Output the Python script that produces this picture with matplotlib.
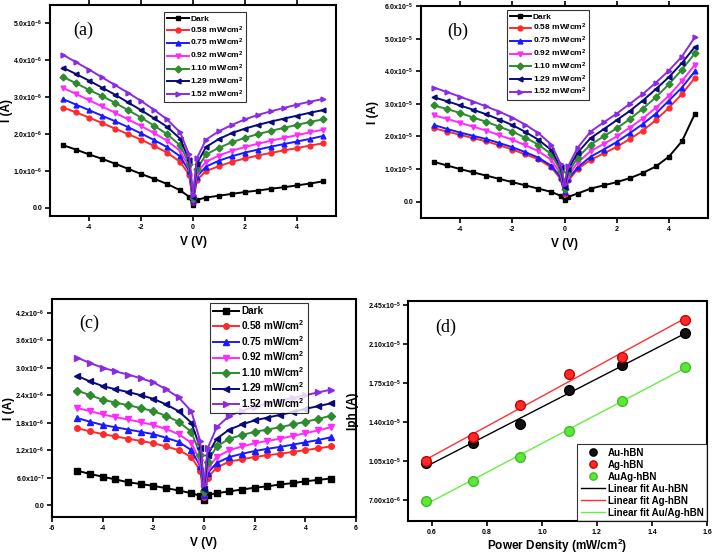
import numpy as np
import matplotlib
matplotlib.use("Agg")
import matplotlib.pyplot as plt

plt.rcParams['font.family'] = ['Liberation Sans', 'DejaVu Sans']
plt.rcParams['mathtext.fontset'] = 'custom'
plt.rcParams['mathtext.rm'] = 'Liberation Sans:bold'
plt.rcParams['mathtext.bf'] = 'Liberation Sans:bold'
plt.rcParams['mathtext.it'] = 'Liberation Sans:bold'

# ---------------- data ----------------
V = [-5, -4.5, -4, -3.5, -3, -2.5, -2, -1.5, -1, -0.5, -0.15, 0, 0.15, 0.5,
     1, 1.5, 2, 2.5, 3, 3.5, 4, 4.5, 5]

series_labels = ['Dark', '0.58 mW/cm$^2$', '0.75 mW/cm$^2$', '0.92 mW/cm$^2$',
                 '1.10 mW/cm$^2$', '1.29 mW/cm$^2$', '1.52 mW/cm$^2$']

# panel (a)  (x1e-6 A)
a_dark = [1.70,1.58,1.45,1.33,1.20,1.06,0.92,0.79,0.65,0.48,0.30,0.08,0.22,0.28,0.33,0.38,0.43,0.47,0.52,0.56,0.61,0.66,0.72]
a_058 = [2.72,2.59,2.45,2.30,2.15,2.00,1.85,1.68,1.50,1.25,0.90,0.15,0.75,1.00,1.13,1.25,1.34,1.42,1.49,1.56,1.62,1.69,1.75]
a_075 = [2.95,2.80,2.65,2.50,2.35,2.19,2.02,1.84,1.65,1.40,1.00,0.18,0.85,1.12,1.28,1.40,1.50,1.58,1.66,1.73,1.80,1.87,1.95]
a_092 = [3.25,3.09,2.92,2.75,2.58,2.40,2.22,2.03,1.82,1.55,1.10,0.22,0.95,1.25,1.42,1.55,1.65,1.74,1.82,1.90,1.97,2.05,2.12]
a_110 = [3.55,3.38,3.20,3.03,2.85,2.65,2.45,2.23,2.00,1.70,1.20,0.26,1.05,1.45,1.63,1.78,1.90,2.00,2.09,2.17,2.25,2.33,2.40]
a_129 = [3.80,3.63,3.45,3.26,3.07,2.86,2.65,2.43,2.20,1.88,1.30,0.30,1.20,1.65,1.87,2.03,2.15,2.25,2.34,2.42,2.50,2.58,2.65]
a_152 = [4.15,3.95,3.75,3.54,3.33,3.12,2.90,2.66,2.40,2.05,1.45,0.35,1.35,1.85,2.08,2.25,2.40,2.52,2.62,2.71,2.80,2.88,2.95]

# panel (b)  (x1e-5 A)
b_dark = [1.22,1.11,1.00,0.90,0.80,0.70,0.60,0.50,0.40,0.30,0.18,0.05,0.15,0.25,0.40,0.50,0.60,0.72,0.88,1.08,1.38,1.85,2.70]
b_058 = [2.25,2.15,2.05,1.95,1.85,1.73,1.60,1.45,1.30,1.05,0.70,0.25,0.65,1.00,1.28,1.48,1.68,1.92,2.18,2.50,2.88,3.30,3.80]
b_075 = [2.35,2.23,2.12,2.02,1.92,1.80,1.67,1.52,1.35,1.10,0.75,0.30,0.70,1.05,1.38,1.60,1.83,2.10,2.38,2.70,3.10,3.50,4.00]
b_092 = [2.65,2.54,2.42,2.30,2.18,2.04,1.90,1.73,1.55,1.28,0.85,0.35,0.80,1.20,1.55,1.77,2.00,2.27,2.55,2.88,3.25,3.70,4.20]
b_110 = [2.95,2.84,2.72,2.58,2.45,2.30,2.15,1.96,1.75,1.45,0.95,0.40,0.90,1.35,1.75,2.00,2.25,2.53,2.85,3.20,3.60,4.05,4.55]
b_129 = [3.20,3.08,2.95,2.82,2.68,2.52,2.35,2.14,1.90,1.58,1.05,0.45,1.00,1.50,1.95,2.22,2.50,2.78,3.10,3.45,3.82,4.25,4.75]
b_152 = [3.50,3.36,3.22,3.07,2.92,2.76,2.58,2.36,2.10,1.75,1.15,0.55,1.10,1.65,2.15,2.43,2.70,3.00,3.30,3.65,4.02,4.45,5.05]

# panel (c)  (x1e-6 A)
c_dark = [0.75,0.68,0.62,0.56,0.50,0.46,0.42,0.37,0.32,0.26,0.20,0.12,0.22,0.26,0.30,0.34,0.38,0.41,0.45,0.48,0.52,0.55,0.58]
c_058 = [1.68,1.61,1.55,1.50,1.45,1.40,1.35,1.28,1.20,1.05,0.75,0.18,0.60,0.82,0.95,1.00,1.05,1.09,1.12,1.16,1.20,1.24,1.28]
c_075 = [1.90,1.82,1.75,1.70,1.65,1.60,1.55,1.47,1.38,1.20,0.85,0.22,0.70,0.92,1.05,1.12,1.18,1.23,1.27,1.32,1.37,1.42,1.48]
c_092 = [2.12,2.05,1.98,1.92,1.87,1.81,1.75,1.66,1.55,1.36,0.95,0.26,0.80,1.05,1.20,1.28,1.35,1.40,1.45,1.51,1.57,1.63,1.70]
c_110 = [2.50,2.40,2.30,2.24,2.18,2.12,2.05,1.95,1.82,1.60,1.10,0.30,0.95,1.28,1.45,1.53,1.60,1.65,1.70,1.76,1.82,1.88,1.95]
c_129 = [2.82,2.70,2.60,2.53,2.47,2.40,2.32,2.20,2.05,1.80,1.25,0.35,1.10,1.45,1.65,1.76,1.85,1.91,1.97,2.03,2.10,2.16,2.22]
c_152 = [3.22,3.10,3.00,2.92,2.85,2.77,2.68,2.53,2.35,2.05,1.40,0.45,1.25,1.70,1.95,2.06,2.15,2.22,2.28,2.34,2.40,2.46,2.52]

# panel (d)  (x1e-5 A)
power = [0.58, 0.75, 0.92, 1.10, 1.29, 1.52]
iph_au = [1.03, 1.21, 1.38, 1.69, 1.91, 2.20]
iph_ag = [1.05, 1.27, 1.55, 1.83, 1.99, 2.32]
iph_auag = [0.69, 0.87, 1.09, 1.32, 1.59, 1.90]

# tick labels
a_yticks = [0, 1, 2, 3, 4, 5]
a_yticklabels = ['0.0', '1.0x10$^{-6}$', '2.0x10$^{-6}$', '3.0x10$^{-6}$', '4.0x10$^{-6}$', '5.0x10$^{-6}$']
b_yticks = [0, 1, 2, 3, 4, 5, 6]
b_yticklabels = ['0.0', '1.0x10$^{-5}$', '2.0x10$^{-5}$', '3.0x10$^{-5}$', '4.0x10$^{-5}$', '5.0x10$^{-5}$', '6.0x10$^{-5}$']
c_yticks = [0, 0.6, 1.2, 1.8, 2.4, 3.0, 3.6, 4.2]
c_yticklabels = ['0.0', '6.0x10$^{-7}$', '1.2x10$^{-6}$', '1.8x10$^{-6}$', '2.4x10$^{-6}$', '3.0x10$^{-6}$', '3.6x10$^{-6}$', '4.2x10$^{-6}$']
d_yticks = [0.70, 1.05, 1.40, 1.75, 2.10, 2.45]
d_yticklabels = ['7.00x10$^{-6}$', '1.05x10$^{-5}$', '1.40x10$^{-5}$', '1.75x10$^{-5}$', '2.10x10$^{-5}$', '2.45x10$^{-5}$']

# ---------------- styling ----------------
colors = ['#000000', '#ff2a2a', '#1a1aff', '#ff2aff', '#2e8b2e', '#0a0a7a', '#8a2be2']
markers = ['s', 'o', '^', 'v', 'D', '<', '>']

W, H = 713, 557
fig = plt.figure(figsize=(W / 100, H / 100), dpi=100)


def rect(l, r, t, b):
    return [l / W, 1 - b / H, (r - l) / W, (b - t) / H]


def style_axes(ax, top_ticks=False):
    for s in ax.spines.values():
        s.set_linewidth(1.5)
    ax.tick_params(direction='out', width=1.2, length=3.5, labelsize=5, pad=2)
    if top_ticks:
        ax.tick_params(axis='x', top=True, labeltop=False)
    for lab in ax.get_xticklabels() + ax.get_yticklabels():
        lab.set_fontweight('bold')


def iv_panel(ax, data, yticks, yticklabels, ylim, xlim, xticks, tag, tagpos,
             legpos, legfs, msize, top_ticks, ylabx):
    for d, c, m, lab in zip(data, colors, markers, series_labels):
        ax.plot(V, d, color=c, marker=m, markersize=msize, lw=1.4, label=lab)
    ax.set_xlim(*xlim)
    ax.set_ylim(*ylim)
    ax.set_xticks(xticks)
    ax.set_xticklabels([str(int(x)) for x in xticks])
    ax.set_yticks(yticks)
    ax.set_yticklabels(yticklabels)
    ax.set_xlabel('V (V)', fontsize=8.5, fontweight='bold', labelpad=4)
    ax.set_ylabel('I (A)', fontsize=8.5, fontweight='bold')
    ax.yaxis.set_label_coords(ylabx, 0.5)
    ax.text(*tagpos, tag, transform=ax.transAxes, fontsize=13,
            family='Liberation Serif', va='center', ha='left')
    leg = ax.legend(loc='upper left', bbox_to_anchor=legpos, fontsize=legfs,
                    frameon=True, fancybox=False, edgecolor='black',
                    handlelength=2.6, handletextpad=0.2, borderpad=0.3,
                    labelspacing=0.18, borderaxespad=0)
    leg.get_frame().set_linewidth(0.8)
    for t in leg.get_texts():
        t.set_fontweight('bold')
    style_axes(ax, top_ticks)


ax_a = fig.add_axes(rect(50, 336, 5, 216))
iv_panel(ax_a, [a_dark, a_058, a_075, a_092, a_110, a_129, a_152],
         a_yticks, a_yticklabels, (-0.22, 5.5), (-5.5, 5.5), [-4, -2, 0, 2, 4],
         '(a)', (0.08, 0.88), (0.40, 0.965), 6.0, 3.5, True, -0.128)

ax_b = fig.add_axes(rect(421, 708, 6, 218))
iv_panel(ax_b, [b_dark, b_058, b_075, b_092, b_110, b_129, b_152],
         b_yticks, b_yticklabels, (-0.5, 6.0), (-5.5, 5.5), [-4, -2, 0, 2, 4],
         '(b)', (0.09, 0.88), (0.30, 0.98), 6.0, 3.5, True, -0.145)

ax_c = fig.add_axes(rect(52, 356, 299, 517))
iv_panel(ax_c, [c_dark, c_058, c_075, c_092, c_110, c_129, c_152],
         c_yticks, c_yticklabels, (-0.26, 4.5), (-6, 6), [-6, -4, -2, 0, 2, 4, 6],
         '(c)', (0.09, 0.89), (0.52, 0.98), 7.2, 4.0, False, -0.122)

# panel (d)
ax_d = fig.add_axes(rect(408, 707, 301, 521))
xfit = np.array([min(power), max(power)])
for y, c, ec, lab in [
        (iph_au, '#111111', '#000000', 'Au-hBN'),
        (iph_ag, '#ff2a2a', '#cc0000', 'Ag-hBN'),
        (iph_auag, '#5ee63a', '#3cbf20', 'AuAg-hBN')]:
    ax_d.plot(power, y, 'o', color=c, mec=ec, markersize=7, label=lab, zorder=3)
for y, c, flab in [(iph_au, '#000000', 'Linear fit Au-hBN'),
                   (iph_ag, '#ff3030', 'Linear fit Ag-hBN'),
                   (iph_auag, '#66ee44', 'Linear fit Au/Ag-hBN')]:
    k, b0 = np.polyfit(power, y, 1)
    ax_d.plot(xfit, k * xfit + b0, color=c, lw=1.0, label=flab, zorder=2)
ax_d.set_xlim(0.513, 1.6)
ax_d.set_ylim(0.51, 2.49)
ax_d.set_xticks([0.6, 0.8, 1.0, 1.2, 1.4, 1.6])
ax_d.set_xticklabels(['0.6', '0.8', '1.0', '1.2', '1.4', '1.6'])
ax_d.set_yticks(d_yticks)
ax_d.set_yticklabels(d_yticklabels)
ax_d.set_xlabel('Power Density (mW/cm$^2$)', fontsize=8.5, fontweight='bold', labelpad=1)
ax_d.set_ylabel('Iph (A)', fontsize=8.5, fontweight='bold')
ax_d.yaxis.set_label_coords(-0.165, 0.5)
ax_d.text(0.09, 0.88, '(d)', transform=ax_d.transAxes, fontsize=13,
          family='Liberation Serif', va='center', ha='left')
leg = ax_d.legend(loc='lower right', fontsize=7, frameon=True, fancybox=False,
                  edgecolor='black', handlelength=2.5, handletextpad=0.3,
                  borderpad=0.35, labelspacing=0.2, borderaxespad=0,
                  markerscale=0.75)
leg.get_frame().set_linewidth(0.8)
for t in leg.get_texts():
    t.set_fontweight('bold')
style_axes(ax_d)

fig.savefig('out.png', dpi=100)
